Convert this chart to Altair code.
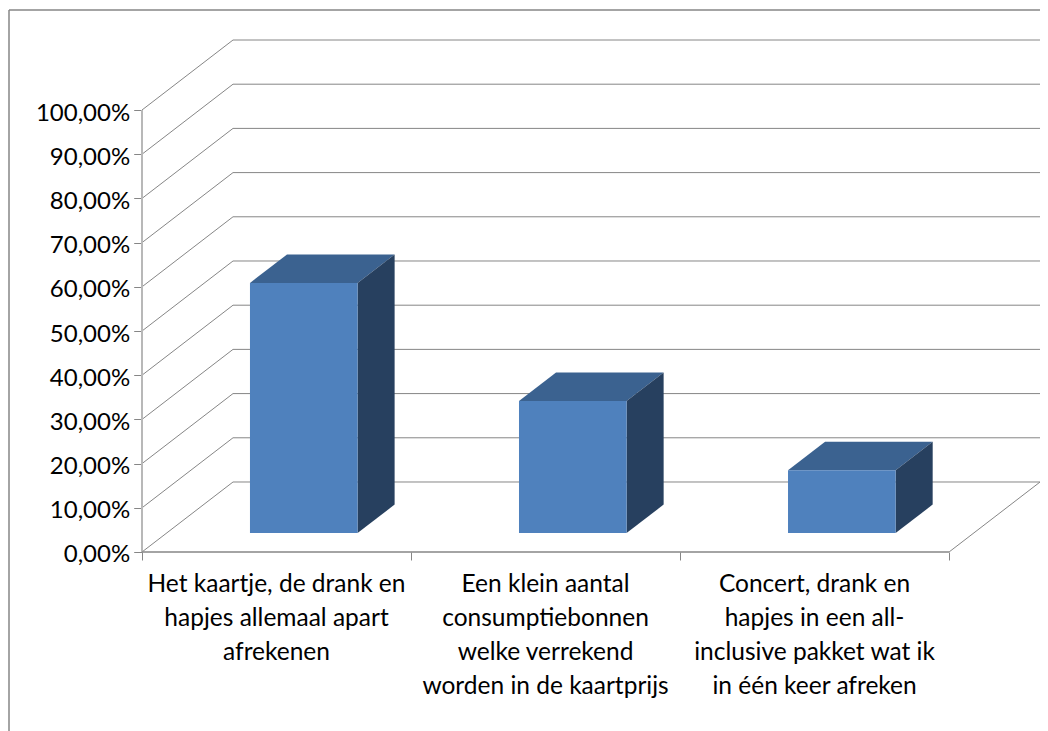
import altair as alt
import pandas as pd

categories = ["Het kaartje, de drank en\nhapjes allemaal apart\nafrekenen",
              "Een klein aantal\nconsumptiebonnen\nwelke verrekend\nworden in de kaartprijs",
              "Concert, drank en\nhapjes in een all-\ninclusive pakket wat ik\nin één keer afreken"]
values = [56.6, 29.9, 14.2]
grid_values = [0, 10, 20, 30, 40, 50, 60, 70, 80, 90, 100]
category_edges = [0, 1, 2, 3]

# oblique projection of the 3-D box
DX, DY = 0.3383, 15.84        # shift of full depth, in x units and y units
D0, D1 = 0.27, 0.677          # bar depth range
BAR_START, BAR_W = 0.31, 0.40
XDOM = [-0.4981, 3.338]
YDOM = [-40.5, 123.08]
W, H = 1032, 723
GREY = "#868686"
FONT = "Lato"

x = alt.X("x:Q", scale=alt.Scale(domain=XDOM, nice=False, zero=False), title=None,
          axis=alt.Axis(values=category_edges, offset=-(H - (552 - 8)), grid=False, tickSize=8,
                        tickColor=GREY, tickWidth=1, labels=False, domain=False))
y = alt.Y("y:Q", scale=alt.Scale(domain=YDOM, nice=False, zero=False), title=None,
          axis=alt.Axis(values=grid_values, offset=-133.7, grid=False, tickSize=8, tickColor=GREY,
                        tickWidth=1, domain=False, labelFont=FONT, labelFontSize=24, labelColor="#000000",
                        labelPadding=4, labelOffset=3,
                        labelExpr="replace(format(datum.value, '.2f'), '.', ',') + '%'"))

# walls and floor
rows = []
for v in grid_values:
    rows += [dict(g=v, o=0, x=0, y=v), dict(g=v, o=1, x=DX, y=v + DY), dict(g=v, o=2, x=3 + DX, y=v + DY)]
rows += [dict(g=-1, o=0, x=3, y=0), dict(g=-1, o=1, x=3 + DX, y=DY)]
grid = alt.Chart(pd.DataFrame(rows)).mark_line(color=GREY, strokeWidth=1).encode(
    x=x, y=y, detail="g:N", order="o:Q")

floor_front = alt.Chart(pd.DataFrame({"x": [0], "x2": [3], "y": [0]})).mark_rule(color=GREY, strokeWidth=1.5).encode(
    x=x, x2="x2:Q", y=y)
side_axis = alt.Chart(pd.DataFrame({"x": [0], "y": [0], "y2": [100]})).mark_rule(color="#b8b8b8", strokeWidth=2).encode(
    x=x, y=y, y2="y2:Q")

# bars
layers = []
for i, v in enumerate(values):
    x0 = i + BAR_START
    x1 = x0 + BAR_W
    base = D0 * DY
    back = D1 * DY
    xshift0, xshift1 = D0 * DX, D1 * DX
    top_face = pd.DataFrame({"y": [v + base, v + back],
                             "x": [x0 + xshift0, x0 + xshift1],
                             "x2": [x1 + xshift0, x1 + xshift1]})
    layers.append(alt.Chart(top_face).mark_area(orient="horizontal", color="#3b6290").encode(
        y=y, x=x, x2="x2:Q"))
    side_face = pd.DataFrame({"x": [x1 + xshift0, x1 + xshift1],
                              "y": [base, back], "y2": [v + base, v + back]})
    layers.append(alt.Chart(side_face).mark_area(orient="vertical", color="#27405f").encode(
        x=x, y=y, y2="y2:Q"))
    front = pd.DataFrame({"x": [x0 + xshift0], "x2": [x1 + xshift0], "y": [base], "y2": [v + base]})
    layers.append(alt.Chart(front).mark_rect(color="#4f81bd").encode(x=x, x2="x2:Q", y=y, y2="y2:Q"))

labels = alt.Chart(pd.DataFrame({"x": [0.5, 1.5, 2.5], "y": [-4.85] * 3, "t": categories})).mark_text(
    font=FONT, fontSize=24.5, lineHeight=34, lineBreak="\n", baseline="top", align="center", color="#000000"
).encode(x=x, y=y, text="t:N")

frame_top = alt.Chart(pd.DataFrame({"a": [0]})).mark_rule(color=GREY, strokeWidth=1.5).encode(
    x=alt.value(1), x2=alt.value(W), y=alt.value(2))
frame_left = alt.Chart(pd.DataFrame({"a": [0]})).mark_rule(color=GREY, strokeWidth=1.5).encode(
    x=alt.value(1), y=alt.value(2), y2=alt.value(H))

chart = alt.layer(grid, side_axis, floor_front, *layers, labels, frame_top, frame_left).properties(
    width=W, height=H, padding=0, autosize=alt.AutoSizeParams(type="none")
).configure_view(stroke=None)

chart.save("out.html", embed_options={"renderer": "svg", "actions": False})
